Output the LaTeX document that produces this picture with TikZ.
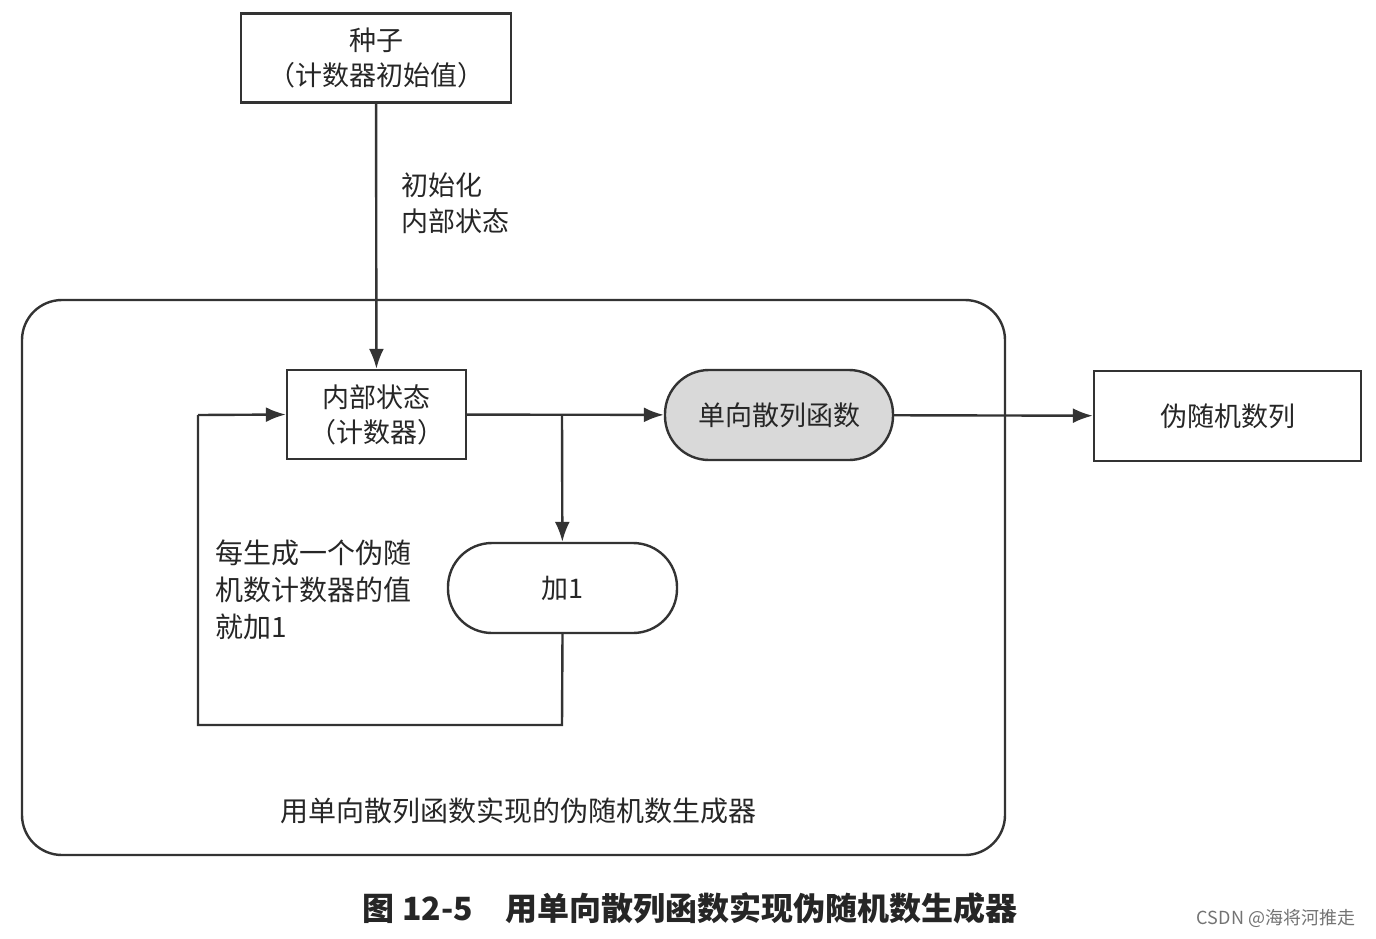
\documentclass[tikz,border=0pt]{standalone}
\usepackage{fontspec}
\setmainfont{Noto Sans CJK SC}
\usetikzlibrary{arrows.meta}
\begin{document}
\begin{tikzpicture}[x=1pt,y=-1pt,
  line/.style={draw=black!80,line width=2.4pt},
  arr/.style={line,-{Latex[length=20pt,width=15pt]}},
  box/.style={line,rectangle,inner sep=0pt,font=\fontsize{27}{35}\selectfont,align=center,text=black!85},
  pill/.style={box,rounded corners=44pt}]
\useasboundingbox (0,0) rectangle (1376,938);
\draw[line,rounded corners=40pt] (22,300) rectangle (1005,855);
\node[box,minimum width=270pt,minimum height=89pt] (seed) at (376,58) {种子\\（计数器初始值）};
\node[box,minimum width=179pt,minimum height=89pt] (st) at (376.5,414.5) {内部状态\\（计数器）};
\node[pill,fill=black!15,minimum width=228pt,minimum height=90pt] (hash) at (779,415) {单向散列函数};
\node[pill,minimum width=229pt,minimum height=90pt] (add) at (562.5,588) {加1};
\node[box,minimum width=267pt,minimum height=90pt] (out) at (1227.5,416) {伪随机数列};
\coordinate (br) at (562,415);
\coordinate (b1) at (562,725);
\coordinate (b2) at (198,725);
\coordinate (b3) at (198,415);
\draw[arr] (seed) -- (st);
\draw[arr] (st) -- (hash);
\draw[arr] (br) -- (add);
\draw[line] (add.south) -- (b1) -- (b2) -- (b3);
\draw[arr] (b3) -- (st.west);
\draw[arr] (hash) -- (out);
\node[font=\fontsize{27}{36}\selectfont,align=left,anchor=west,text=black!85] (l1) at (398,203) {初始化\\内部状态};
\node[font=\fontsize{28}{37}\selectfont,align=left,anchor=west,text=black!85] (l2) at (212,590) {每生成一个伪随\\机数计数器的值\\就加1};
\node[font=\fontsize{28}{30}\selectfont,text=black!85] (l3) at (518,811) {用单向散列函数实现的伪随机数生成器};
\node[font=\fontsize{32}{34}\selectfont\bfseries,text=black!85] (cap) at (690,908) {图 12-5\quad 用单向散列函数实现伪随机数生成器};
\node[font=\fontsize{18}{20}\selectfont,text=black!55] (wm) at (1276,918) {CSDN @海将河推走};
\end{tikzpicture}
\end{document}
